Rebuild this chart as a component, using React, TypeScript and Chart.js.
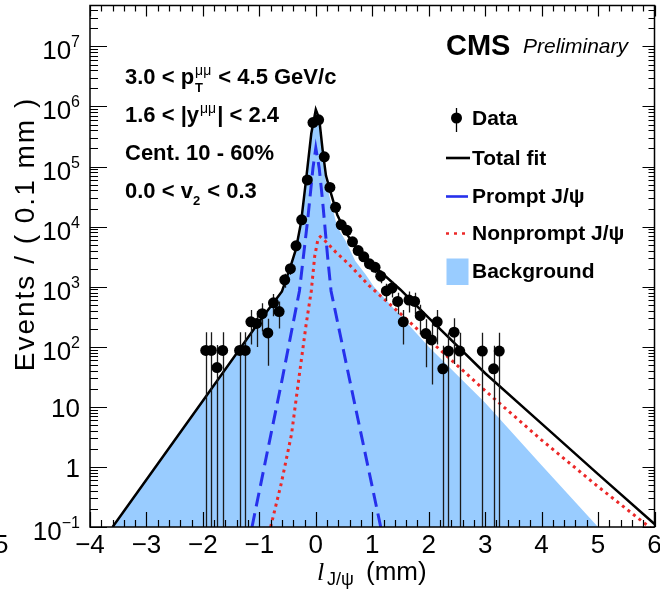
import React, { useEffect, useRef } from 'react';
import { Chart, registerables } from 'chart.js';

Chart.register(...registerables);

// ---- Data ----
const binCenters = [
  -1.95, -1.85, -1.75, -1.65, -1.35, -1.25, -1.15, -1.05, -0.95, -0.85, -0.75, -0.65,
  -0.55, -0.45, -0.35, -0.25, -0.15, -0.05, 0.05, 0.15, 0.25, 0.35, 0.45, 0.55, 0.65,
  0.75, 0.85, 0.95, 1.05, 1.15, 1.25, 1.35, 1.45, 1.55, 1.65, 1.75, 1.85, 1.95, 2.05,
  2.15, 2.25, 2.35, 2.45, 2.55, 2.95, 3.15, 3.25,
];
const eventCounts = [
  87, 87, 45, 87, 87, 87, 260, 245, 355, 170, 540, 385,
  1300, 2000, 4800, 13000, 60000, 540000, 600000, 145000, 45000, 21000, 10700, 8700, 5600,
  4000, 3150, 2400, 2100, 1500, 850, 950, 570, 260, 600, 570, 330, 166, 130,
  260, 43, 85, 175, 85, 85, 43, 85,
];
const eventWeight = 87; // per-event weight, sets the Poisson error bars

const totalFitX = [-3.6, -2.0, -1.0, -0.6, -0.45, -0.35, -0.26, -0.17, -0.08, 0.0, 0.06, 0.12, 0.18, 0.27, 0.38, 0.53, 0.76, 1.05, 1.5, 2.0, 3.0, 4.0, 5.0, 6.0];
const totalFitY = [0.1, 12.6, 263, 832, 2140, 4270, 12000, 63100, 355000, 891000, 631000, 191000, 70800, 35500, 15800, 7940, 3980, 2140, 891, 302, 36.3, 5.25, 0.76, 0.112];

const promptX = [-1.13, -0.9, -0.6, -0.29, -0.14, -0.05, 0.0, 0.06, 0.12, 0.21, 0.27, 0.6, 0.9, 1.15];
const promptY = [0.1, 1.15, 27.5, 850, 14000, 95000, 204000, 95000, 27000, 3100, 850, 28, 1.3, 0.1];

const nonpromptX = [-0.8, -0.61, -0.43, -0.29, -0.17, -0.08, -0.02, 0.04, 0.08, 0.15, 0.35, 0.58, 0.94, 1.5, 2.0, 3.0, 4.0, 5.0, 5.97];
const nonpromptY = [0.1, 0.54, 3.5, 35, 240, 850, 3200, 6300, 6800, 6000, 3800, 2400, 1050, 355, 132, 18.6, 2.8, 0.47, 0.09];

const backgroundX = [-3.6, -2.0, -1.0, -0.6, -0.45, -0.35, -0.26, -0.17, -0.08, 0.0, 0.06, 0.12, 0.18, 0.27, 0.38, 0.53, 0.7, 0.88, 1.03, 2.0, 3.0, 4.0, 5.0];
const backgroundY = [0.1, 12.6, 263, 794, 2000, 3980, 11200, 56200, 316000, 794000, 525000, 158000, 56200, 25100, 10000, 5750, 2690, 1620, 1000, 100, 11.7, 1.07, 0.1];

const xTickLabels = [-4, -3, -2, -1, 0, 1, 2, 3, 4, 5, 6];
const yTickExponents = [-1, 0, 1, 2, 3, 4, 5, 6, 7];
const legendLabels = ['Data', 'Total fit', 'Prompt J/\u03c8', 'Nonprompt J/\u03c8', 'Background'];

const X_MIN = -4;
const X_MAX = 6;
const Y_MIN = 0.1;
const Y_MAX = 4.8e7;

const FONT = '"Liberation Sans", Arial, Helvetica, sans-serif';
const FILL_BLUE = 'rgb(153,204,255)';
const PROMPT_BLUE = 'rgb(38,48,236)';
const NONPROMPT_RED = 'rgb(236,40,40)';
const DATA_INDEX = 4;

const pts = (xs: number[], ys: number[]) => xs.map((x, i) => ({ x, y: ys[i] }));

const decorPlugin = {
  id: 'rootDecor',
  beforeDatasetDraw(chart: any, args: any) {
    if (args.index !== DATA_INDEX) return;
    const { ctx, chartArea: a } = chart;
    const xs = chart.scales.x;
    const ys = chart.scales.y;
    ctx.save();
    ctx.beginPath();
    ctx.rect(a.left, a.top, a.right - a.left, a.bottom - a.top);
    ctx.clip();
    ctx.strokeStyle = '#1a1a1a';
    ctx.lineWidth = 1.3;
    binCenters.forEach((x, i) => {
      const v = eventCounts[i];
      const e = Math.sqrt(v * eventWeight);
      const px = Math.round(xs.getPixelForValue(x)) + 0.5;
      const top = ys.getPixelForValue(v + e);
      const lo = v - e;
      const bot = lo > Y_MIN ? ys.getPixelForValue(lo) : a.bottom;
      ctx.beginPath();
      ctx.moveTo(px, top);
      ctx.lineTo(px, bot);
      ctx.stroke();
    });
    ctx.restore();
  },
  afterDraw(chart: any) {
    const { ctx, chartArea: a } = chart;
    const xs = chart.scales.x;
    const ys = chart.scales.y;
    ctx.save();

    // frame
    ctx.strokeStyle = '#000';
    ctx.lineWidth = 1.5;
    ctx.strokeRect(a.left, a.top, a.right - a.left, a.bottom - a.top);

    // x ticks (bottom and top)
    ctx.lineWidth = 1.2;
    const nX = Math.round((X_MAX - X_MIN) / 0.2);
    for (let i = 0; i <= nX; i++) {
      const v = X_MIN + i * 0.2;
      const px = Math.round(xs.getPixelForValue(v)) + 0.5;
      const major = i % 5 === 0;
      ctx.beginPath();
      ctx.moveTo(px, a.bottom);
      ctx.lineTo(px, a.bottom - (major ? 15 : 7));
      ctx.moveTo(px, a.top);
      ctx.lineTo(px, a.top + (major ? 11 : 6));
      ctx.stroke();
    }
    // y ticks (left and right)
    for (let e = -1; e <= 8; e++) {
      for (let k = 1; k <= 9; k++) {
        const v = k * Math.pow(10, e);
        if (v < Y_MIN * 0.999 || v > Y_MAX) continue;
        const py = Math.round(ys.getPixelForValue(v)) + 0.5;
        const major = k === 1;
        ctx.beginPath();
        ctx.moveTo(a.left, py);
        ctx.lineTo(a.left + (major ? 17 : 8), py);
        ctx.moveTo(a.right, py);
        ctx.lineTo(a.right - (major ? 12 : 6), py);
        ctx.stroke();
      }
    }

    ctx.fillStyle = '#000';
    // x tick labels
    ctx.font = `26px ${FONT}`;
    ctx.textAlign = 'center';
    ctx.textBaseline = 'alphabetic';
    xTickLabels.forEach((v) => {
      const txt = v < 0 ? '\u2212' + Math.abs(v) : String(v);
      ctx.fillText(txt, xs.getPixelForValue(v), 553);
    });
    // partial neighbouring label at the far left
    ctx.textAlign = 'left';
    ctx.fillText('5', -6, 553);

    // y tick labels
    const rightEdge = 80;
    yTickExponents.forEach((e) => {
      const py = ys.getPixelForValue(Math.pow(10, e));
      ctx.textAlign = 'right';
      if (e === 0 || e === 1) {
        ctx.font = `26px ${FONT}`;
        ctx.fillText(e === 0 ? '1' : '10', rightEdge, py + 10);
      } else {
        const sup = e < 0 ? '\u2212' + Math.abs(e) : String(e);
        ctx.font = `16px ${FONT}`;
        const sw = ctx.measureText(sup).width;
        ctx.fillText(sup, rightEdge, py + 1);
        ctx.font = `26px ${FONT}`;
        ctx.fillText('10', rightEdge - sw, py + 13);
      }
    });

    // y axis title
    ctx.save();
    ctx.translate(34, 234);
    ctx.rotate(-Math.PI / 2);
    ctx.textAlign = 'center';
    ctx.font = `28px ${FONT}`;
    try { (ctx as any).letterSpacing = '2px'; } catch (err) { /* ignore */ }
    ctx.fillText('Events / ( 0.1 mm )', 0, 0);
    try { (ctx as any).letterSpacing = '0px'; } catch (err) { /* ignore */ }
    ctx.restore();

    // x axis title
    ctx.textAlign = 'left';
    ctx.font = `italic 26px "Liberation Serif", serif`;
    ctx.fillText('l', 317, 580);
    ctx.font = `18px ${FONT}`;
    ctx.fillText('J/\u03c8', 327, 585);
    ctx.font = `26px ${FONT}`;
    ctx.fillText('(mm)', 366, 580);

    // CMS Preliminary
    ctx.font = `bold 29px ${FONT}`;
    ctx.fillText('CMS', 446, 55);
    ctx.font = `italic 21px ${FONT}`;
    ctx.fillText('Preliminary', 523, 53);

    // kinematic annotations
    const B = `bold 22px ${FONT}`;
    const S = `bold 13px ${FONT}`;
    const G = `14px ${FONT}`;
    let x = 125;
    // line 1
    ctx.font = B;
    ctx.fillText('3.0 < p', x, 84);
    x += ctx.measureText('3.0 < p').width + 1;
    ctx.font = S;
    ctx.fillText('T', x, 92);
    ctx.font = G;
    ctx.fillText('\u03bc\u03bc', x, 75);
    x += Math.max(ctx.measureText('\u03bc\u03bc').width, 9) + 1;
    ctx.font = B;
    ctx.fillText(' < 4.5 GeV/c', x, 84);
    // line 2
    x = 125;
    ctx.fillText('1.6 < |y', x, 122);
    x += ctx.measureText('1.6 < |y').width + 1;
    ctx.font = G;
    ctx.fillText('\u03bc\u03bc', x, 113);
    x += ctx.measureText('\u03bc\u03bc').width + 1;
    ctx.font = B;
    ctx.fillText('| < 2.4', x, 122);
    // line 3
    ctx.fillText('Cent. 10 - 60%', 125, 160);
    // line 4
    x = 125;
    ctx.fillText('0.0 < v', x, 198);
    x += ctx.measureText('0.0 < v').width;
    ctx.font = S;
    ctx.fillText('2', x, 205);
    x += ctx.measureText('2').width + 1;
    ctx.font = B;
    ctx.fillText(' < 0.3', x, 198);

    // legend
    const lx = 472;
    const rowY = [118, 158, 196.5, 233.5, 271.5];
    // Data marker
    ctx.strokeStyle = '#000';
    ctx.lineWidth = 1.3;
    ctx.beginPath();
    ctx.moveTo(456.5, 108);
    ctx.lineTo(456.5, 132);
    ctx.stroke();
    ctx.beginPath();
    ctx.arc(456.5, rowY[0], 5.5, 0, Math.PI * 2);
    ctx.fill();
    // Total fit
    ctx.lineWidth = 2.6;
    ctx.beginPath();
    ctx.moveTo(446, rowY[1]);
    ctx.lineTo(470, rowY[1]);
    ctx.stroke();
    // Prompt
    ctx.strokeStyle = PROMPT_BLUE;
    ctx.beginPath();
    ctx.moveTo(446, rowY[2]);
    ctx.lineTo(468, rowY[2]);
    ctx.stroke();
    // Nonprompt
    ctx.strokeStyle = NONPROMPT_RED;
    ctx.setLineDash([3, 5]);
    ctx.beginPath();
    ctx.moveTo(446, rowY[3]);
    ctx.lineTo(470, rowY[3]);
    ctx.stroke();
    ctx.setLineDash([]);
    // Background
    ctx.fillStyle = FILL_BLUE;
    ctx.fillRect(446.5, 258.5, 22, 26.5);
    ctx.fillStyle = '#000';
    ctx.font = `bold 21px ${FONT}`;
    ctx.textBaseline = 'middle';
    legendLabels.forEach((t, i) => ctx.fillText(t, lx, rowY[i] + 1));

    ctx.restore();
  },
};

export default function App() {
  const canvasRef = useRef<HTMLCanvasElement | null>(null);

  useEffect(() => {
    document.body.style.margin = '0';
    const canvas = canvasRef.current;
    if (!canvas) return;
    const chart = new Chart(canvas, {
      type: 'scatter',
      data: {
        datasets: [
          {
            label: 'Background',
            data: pts(backgroundX, backgroundY),
            showLine: true,
            fill: 'start',
            backgroundColor: FILL_BLUE,
            borderColor: FILL_BLUE,
            borderWidth: 0,
            pointRadius: 0,
            order: 5,
          },
          {
            label: 'Prompt J/\u03c8',
            data: pts(promptX, promptY),
            showLine: true,
            borderColor: PROMPT_BLUE,
            borderWidth: 3,
            borderDash: [14, 7],
            pointRadius: 0,
            order: 4,
          },
          {
            label: 'Nonprompt J/\u03c8',
            data: pts(nonpromptX, nonpromptY),
            showLine: true,
            borderColor: NONPROMPT_RED,
            borderWidth: 3,
            borderDash: [3, 4],
            pointRadius: 0,
            order: 3,
          },
          {
            label: 'Total fit',
            data: pts(totalFitX, totalFitY),
            showLine: true,
            borderColor: '#000',
            borderWidth: 2.5,
            pointRadius: 0,
            order: 2,
          },
          {
            label: 'Data',
            data: pts(binCenters, eventCounts),
            showLine: false,
            pointRadius: 5.5,
            pointBackgroundColor: '#000',
            pointBorderWidth: 0,
            borderColor: '#000',
            order: 1,
          },
        ],
      },
      options: {
        responsive: false,
        animation: false,
        devicePixelRatio: 1,
        layout: { padding: { left: 90, right: 2, top: 4, bottom: 65 } },
        scales: {
          x: { type: 'linear', min: X_MIN, max: X_MAX, display: false },
          y: { type: 'logarithmic', min: Y_MIN, max: Y_MAX, display: false },
        },
        plugins: {
          legend: { display: false },
          tooltip: { enabled: false },
        },
      },
      plugins: [decorPlugin],
    });
    return () => chart.destroy();
  }, []);

  return (
    <div style={{ position: 'absolute', left: 0, top: 0, width: 660, height: 592, background: '#fff' }}>
      <canvas ref={canvasRef} width={660} height={592} style={{ display: 'block' }} />
    </div>
  );
}
